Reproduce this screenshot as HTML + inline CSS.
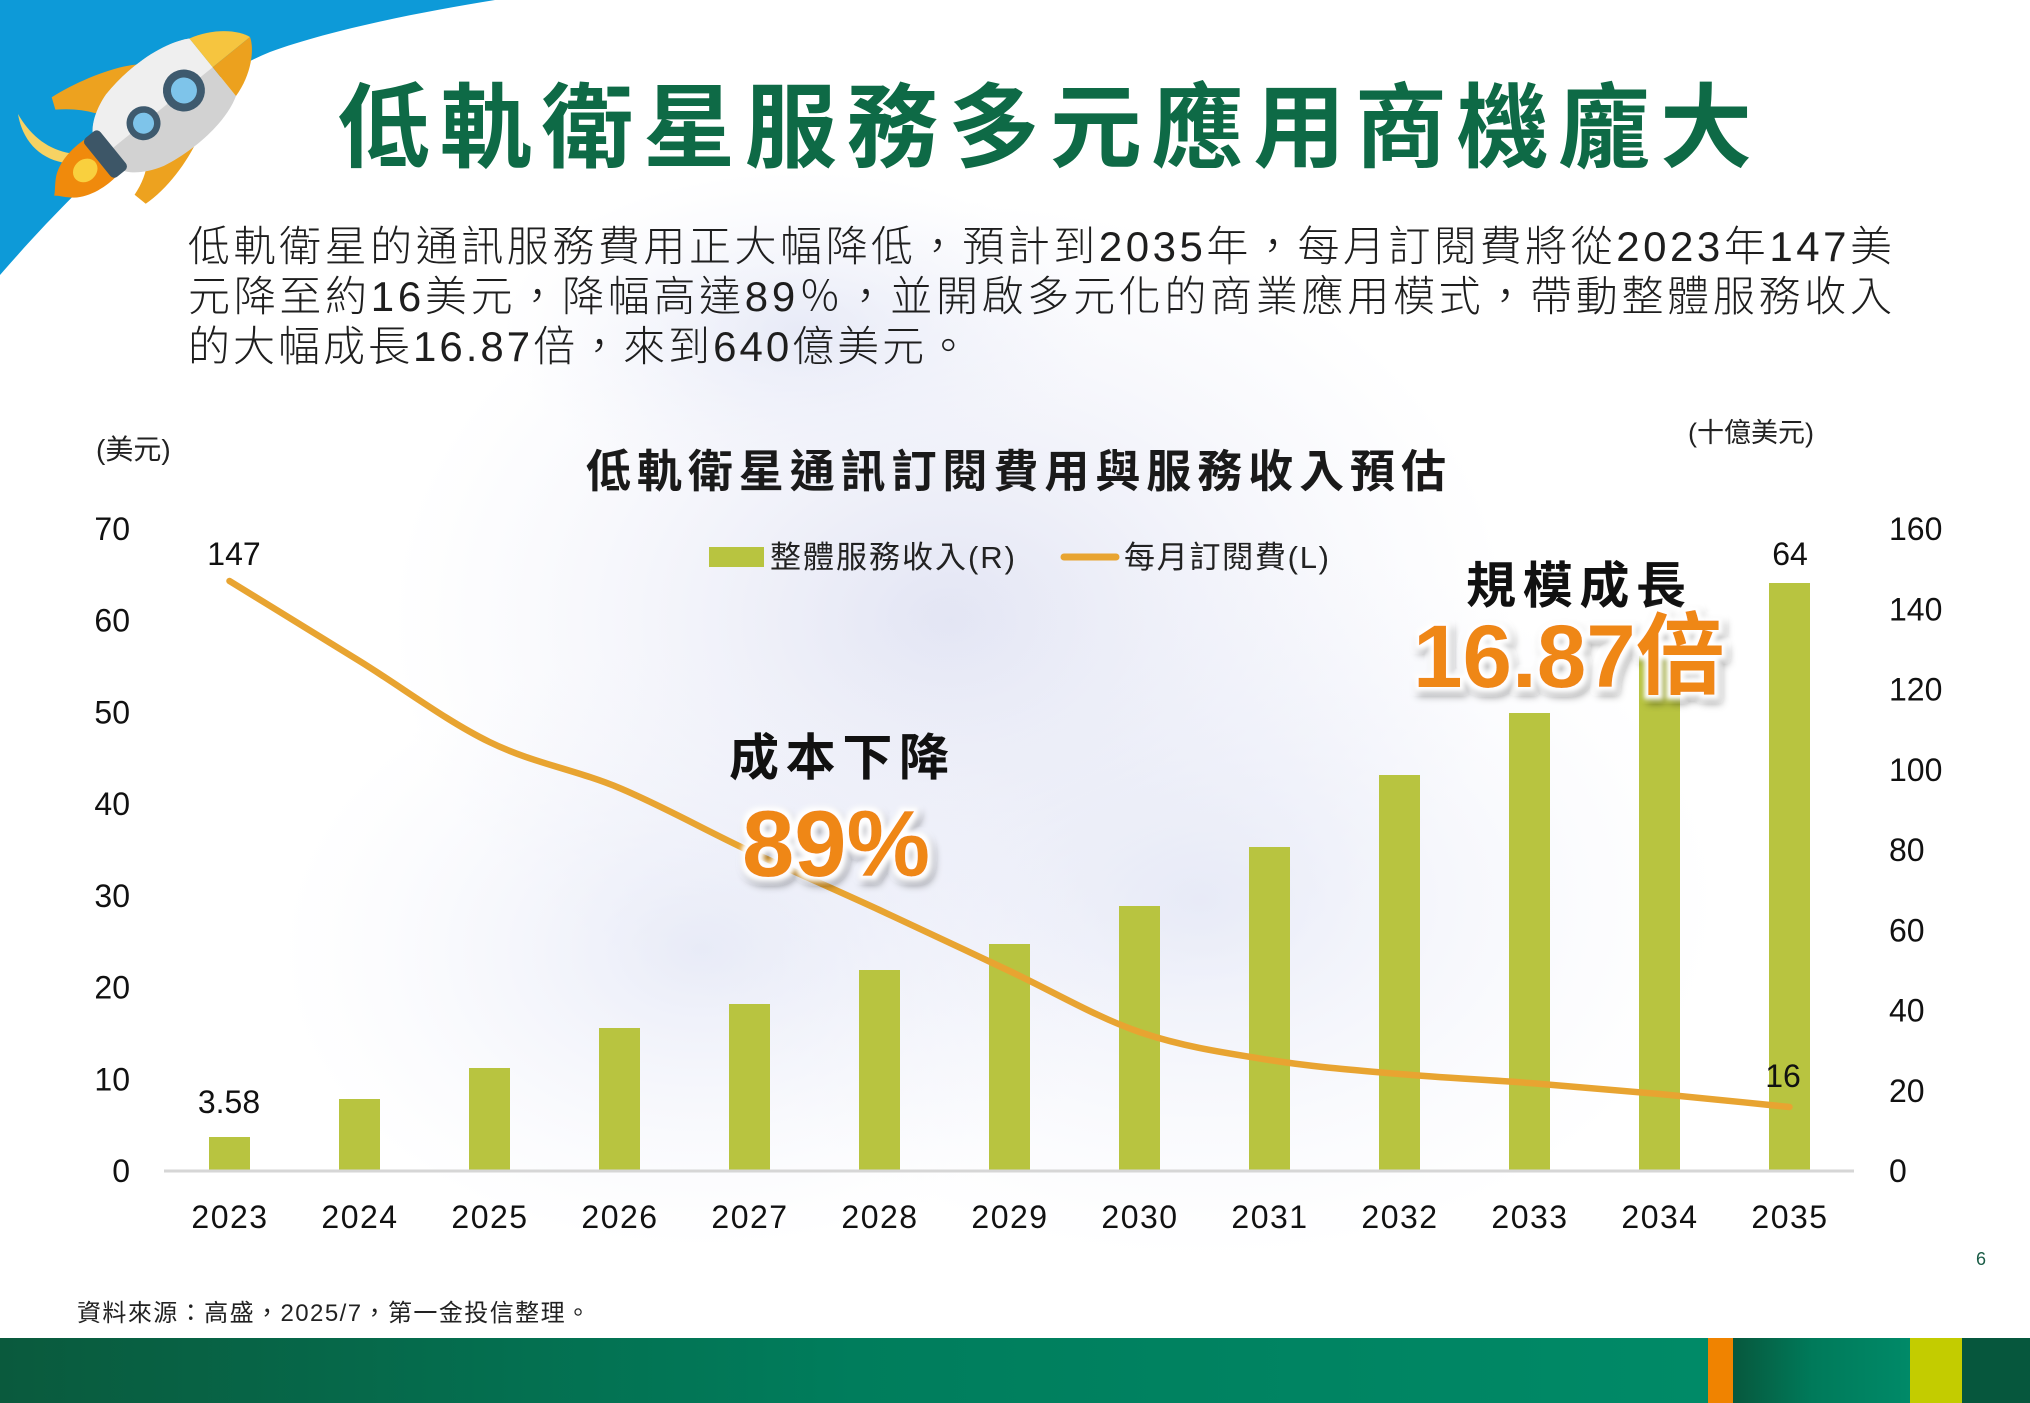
<!DOCTYPE html>
<html>
<head>
<meta charset="utf-8">
<style>
html,body{margin:0;padding:0;background:#fff;}
body{width:2030px;height:1403px;overflow:hidden;}
svg{display:block;}
text{font-family:"Liberation Sans","Noto Sans CJK TC",sans-serif;}
</style>
</head>
<body>
<svg width="2030" height="1403" viewBox="0 0 2030 1403" xmlns="http://www.w3.org/2000/svg">
<defs>
  <radialGradient id="neb1" cx="50%" cy="50%" r="50%">
    <stop offset="0" stop-color="#d9dcf0" stop-opacity="0.75"/>
    <stop offset="1" stop-color="#e6e8f6" stop-opacity="0"/>
  </radialGradient>
  <radialGradient id="neb2" cx="50%" cy="50%" r="50%">
    <stop offset="0" stop-color="#dfe3f4" stop-opacity="0.7"/>
    <stop offset="1" stop-color="#eef0fa" stop-opacity="0"/>
  </radialGradient>
  <linearGradient id="foot" x1="0" y1="0" x2="1" y2="0">
    <stop offset="0" stop-color="#0a5a3d"/>
    <stop offset="0.5" stop-color="#007d5c"/>
    <stop offset="1" stop-color="#008a67"/>
  </linearGradient>
  <linearGradient id="foot2" x1="0" y1="0" x2="1" y2="0">
    <stop offset="0" stop-color="#07583d"/>
    <stop offset="0.45" stop-color="#007a5a"/>
    <stop offset="1" stop-color="#008a68"/>
  </linearGradient>
  <filter id="glow" x="-20%" y="-30%" width="140%" height="170%">
    <feMorphology in="SourceAlpha" operator="dilate" radius="4" result="d"/>
    <feGaussianBlur in="d" stdDeviation="2" result="db"/>
    <feFlood flood-color="#ffffff" result="w"/>
    <feComposite in="w" in2="db" operator="in" result="white"/>
    <feOffset in="d" dx="3" dy="5" result="off"/>
    <feGaussianBlur in="off" stdDeviation="4" result="ob"/>
    <feFlood flood-color="#000000" flood-opacity="0.4"/>
    <feComposite in2="ob" operator="in" result="shadow"/>
    <feMerge>
      <feMergeNode in="shadow"/>
      <feMergeNode in="white"/>
      <feMergeNode in="SourceGraphic"/>
    </feMerge>
  </filter>
</defs>

<!-- background -->
<rect x="0" y="0" width="2030" height="1403" fill="#ffffff"/>
<ellipse cx="950" cy="620" rx="560" ry="420" fill="url(#neb1)"/>
<ellipse cx="1200" cy="900" rx="520" ry="360" fill="url(#neb2)"/>
<ellipse cx="700" cy="950" rx="420" ry="300" fill="url(#neb2)"/>
<ellipse cx="800" cy="330" rx="300" ry="160" fill="url(#neb2)"/>

<!-- blue swoosh -->
<path d="M0,0 L495,0 C420,12 330,30 270,52 C190,85 100,160 0,275 Z" fill="#0d9ad8"/>

<!-- rocket trail -->
<path d="M18,114 C24,150 52,168 88,163 L88,154 C58,156 34,142 18,114 Z" fill="#f6d263"/>

<!-- rocket -->
<g transform="translate(250,37) rotate(51)">
  <path d="M-46,100 C-62,120 -74,160 -78,192 L-66,197 C-58,185 -48,175 -38,168 Z" fill="#eda21f"/>
  <path d="M46,104 C58,128 66,160 64,186 L50,189 C46,176 40,166 32,158 Z" fill="#eda21f"/>
  <path d="M-24,190 C-26,205 -24,225 -14,238 C-8,245 -3,248 0,252 C3,248 8,245 14,238 C24,225 26,205 24,190 Z" fill="#f08a0c"/>
  <ellipse cx="0" cy="212" rx="11" ry="13" fill="#f9d03e"/>
  <path d="M-37,48 C-50,70 -54,110 -46,148 C-40,168 -30,180 -22,184 L22,184 C30,180 40,168 46,148 C54,110 50,70 37,48 Z" fill="#d2d2d2"/>
  <path d="M-37,48 C-50,70 -54,110 -46,148 C-40,168 -30,180 -22,184 L0,184 L0,48 Z" fill="#efefef"/>
  <path d="M-37,48 C-30,22 -12,4 0,0 L0,48 Z" fill="#f6c53f"/>
  <path d="M37,48 C30,22 12,4 0,0 L0,48 Z" fill="#eca11e"/>
  <circle cx="0" cy="85" r="21" fill="#3e5a6e"/>
  <circle cx="0" cy="85" r="13" fill="#7ec4ea"/>
  <circle cx="0" cy="137" r="17" fill="#3e5a6e"/>
  <circle cx="0" cy="137" r="10.5" fill="#7ec4ea"/>
  <rect x="-25" y="176" width="50" height="20" rx="5" fill="#3d5667"/>
</g>

<!-- title -->
<text x="338" y="160" font-size="92" font-weight="bold" fill="#0e6a46" textLength="1414" lengthAdjust="spacing">低軌衛星服務多元應用商機龐大</text>

<!-- paragraph -->
<g font-size="42" fill="#1e1e1e" font-weight="300">
  <text x="188" y="261" textLength="1704" lengthAdjust="spacing">低軌衛星的通訊服務費用正大幅降低，預計到2035年，每月訂閱費將從2023年147美</text>
  <text x="188" y="311" textLength="1704" lengthAdjust="spacing">元降至約16美元，降幅高達89％，並開啟多元化的商業應用模式，帶動整體服務收入</text>
  <text x="188" y="361" letter-spacing="3">的大幅成長16.87倍，來到640億美元。</text>
</g>

<!-- chart title -->
<text x="586" y="487" font-size="45" font-weight="bold" fill="#1a1a1a" textLength="860" lengthAdjust="spacing">低軌衛星通訊訂閱費用與服務收入預估</text>

<!-- units -->
<text x="96" y="459" font-size="28" fill="#222">(美元)</text>
<text x="1688" y="442" font-size="27" fill="#222">(十億美元)</text>

<!-- legend -->
<rect x="709" y="547" width="55" height="20" fill="#b8c440"/>
<text x="770" y="568" font-size="31" fill="#222" textLength="245" lengthAdjust="spacing">整體服務收入(R)</text>
<line x1="1064" y1="557" x2="1116" y2="557" stroke="#e8a431" stroke-width="7" stroke-linecap="round"/>
<text x="1124" y="568" font-size="31" fill="#222" textLength="205" lengthAdjust="spacing">每月訂閱費(L)</text>

<!-- left axis labels -->
<g font-size="32" fill="#111" text-anchor="end">
  <text x="130" y="540">70</text>
  <text x="130" y="631.7">60</text>
  <text x="130" y="723.4">50</text>
  <text x="130" y="815.1">40</text>
  <text x="130" y="906.9">30</text>
  <text x="130" y="998.6">20</text>
  <text x="130" y="1090.3">10</text>
  <text x="130" y="1182">0</text>
</g>

<!-- right axis labels -->
<g font-size="32" fill="#111">
  <text x="1889" y="540">160</text>
  <text x="1889" y="620.25">140</text>
  <text x="1889" y="700.5">120</text>
  <text x="1889" y="780.75">100</text>
  <text x="1889" y="861">80</text>
  <text x="1889" y="941.25">60</text>
  <text x="1889" y="1021.5">40</text>
  <text x="1889" y="1101.75">20</text>
  <text x="1889" y="1182">0</text>
</g>

<!-- bars -->
<g fill="#b8c440">
  <rect x="209" y="1137" width="41" height="33"/>
  <rect x="339" y="1099" width="41" height="71"/>
  <rect x="469" y="1068" width="41" height="102"/>
  <rect x="599" y="1028" width="41" height="142"/>
  <rect x="729" y="1004" width="41" height="166"/>
  <rect x="859" y="970" width="41" height="200"/>
  <rect x="989" y="944" width="41" height="226"/>
  <rect x="1119" y="906" width="41" height="264"/>
  <rect x="1249" y="847" width="41" height="323"/>
  <rect x="1379" y="775" width="41" height="395"/>
  <rect x="1509" y="713" width="41" height="457"/>
  <rect x="1639" y="656" width="41" height="514"/>
  <rect x="1769" y="583" width="41" height="587"/>
</g>

<!-- x axis -->
<line x1="164" y1="1171" x2="1854" y2="1171" stroke="#d6d6d6" stroke-width="3"/>

<!-- x labels -->
<g font-size="32" fill="#111" text-anchor="middle" letter-spacing="1.5">
  <text x="230" y="1228">2023</text>
  <text x="360" y="1228">2024</text>
  <text x="490" y="1228">2025</text>
  <text x="620" y="1228">2026</text>
  <text x="750" y="1228">2027</text>
  <text x="880" y="1228">2028</text>
  <text x="1010" y="1228">2029</text>
  <text x="1140" y="1228">2030</text>
  <text x="1270" y="1228">2031</text>
  <text x="1400" y="1228">2032</text>
  <text x="1530" y="1228">2033</text>
  <text x="1660" y="1228">2034</text>
  <text x="1790" y="1228">2035</text>
</g>

<!-- line -->
<path d="M229.5,581 C272.83,607.67 316.17,634.17 359.5,661 C402.83,687.83 446.17,720.83 489.5,742 C532.83,763.17 576.17,769.83 619.5,788 C662.83,806.17 706.17,830.67 749.5,851 C792.83,871.33 836.17,890 879.5,910 C922.83,930 966.17,950.67 1009.5,971 C1052.83,991.33 1096.17,1017.17 1139.5,1032 C1182.83,1046.83 1226.17,1053 1269.5,1060 C1312.83,1067 1356.17,1070.17 1399.5,1074 C1442.83,1077.83 1486.17,1079.67 1529.5,1083 C1572.83,1086.33 1616.17,1090 1659.5,1094 C1702.83,1098 1746.17,1102.67 1789.5,1107" fill="none" stroke="#e8a431" stroke-width="6.5" stroke-linecap="round" stroke-linejoin="round"/>

<!-- data labels -->
<g font-size="32" fill="#111" text-anchor="middle">
  <text x="234" y="565">147</text>
  <text x="229" y="1113">3.58</text>
  <text x="1790" y="565">64</text>
  <text x="1783" y="1087">16</text>
</g>

<!-- annotations -->
<text x="729" y="775" font-size="50" font-weight="bold" fill="#111" textLength="220" lengthAdjust="spacing">成本下降</text>
<text x="742" y="876" font-size="94" font-weight="bold" fill="#ef8717" filter="url(#glow)">89%</text>
<text x="1466" y="603" font-size="50" font-weight="bold" fill="#111" textLength="220" lengthAdjust="spacing">規模成長</text>
<text x="1413" y="687" font-size="89" font-weight="bold" fill="#ef8717" filter="url(#glow)">16.87倍</text>

<!-- source -->
<text x="77" y="1321" font-size="24" fill="#222" textLength="513" lengthAdjust="spacing">資料來源：高盛，2025/7，第一金投信整理。</text>

<!-- page number -->
<text x="1976" y="1265" font-size="18" fill="#1a5c46" font-family="Liberation Serif, serif">6</text>

<!-- footer bar -->
<rect x="0" y="1338" width="1708" height="65" fill="url(#foot)"/>
<rect x="1708" y="1338" width="25" height="65" fill="#f08300"/>
<rect x="1733" y="1338" width="177" height="65" fill="url(#foot2)"/>
<rect x="1910" y="1338" width="52" height="65" fill="#c3cc00"/>
<rect x="1962" y="1338" width="68" height="65" fill="#06573d"/>
</svg>
</body>
</html>
